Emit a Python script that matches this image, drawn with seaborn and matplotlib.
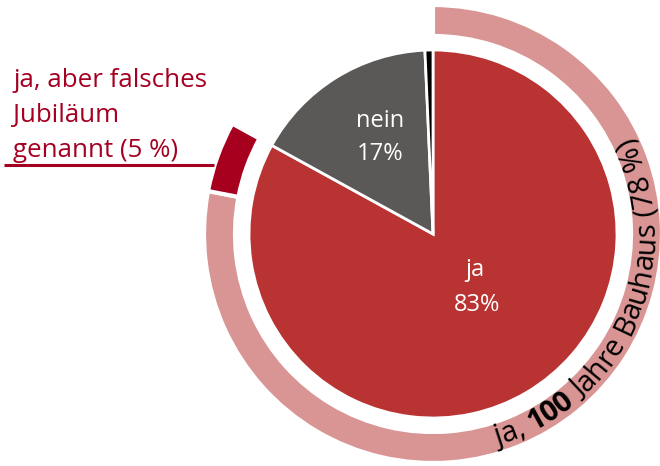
import numpy as np
import matplotlib
matplotlib.use('Agg')
import matplotlib.pyplot as plt
import seaborn as sns

# inner pie: answers
inner_labels = ['ja', 'nein', 'keine Angabe']
inner_values = [83, 16.3, 0.7]
inner_texts = [('ja', '83%'), ('nein', '17%')]

# outer ring: breakdown of "ja"
outer_values = [78, 5, 17]
outer_text = [('ja, ', 'normal'), ('100', 'bold'), (' Jahre Bauhaus (78 %)', 'normal')]
side_label = ['ja, aber falsches', 'Jubiläum', 'genannt (5 %)']

RED = '#BA3333'
GRAY = '#5A5957'
PINK = '#D99594'
DARKRED = '#A6001E'
TEXTRED = '#A50021'

W, H = 660, 466
CX, CY = 433, H - 234
R_PIE = 184
R_RING = 229
RING_W = 31


def py(y):
    """Convert a pixel row (top = 0) to data y."""
    return H - y


def curved_text(ax, segments, radius, start_deg, size, family):
    """Write text along an arc, reading counter-clockwise, tops inward."""
    renderer = ax.figure.canvas.get_renderer()

    def width(s, weight):
        t = ax.text(0, 0, s + '|', fontsize=size, fontweight=weight, family=family)
        w = t.get_window_extent(renderer).width
        t.remove()
        t = ax.text(0, 0, '|', fontsize=size, fontweight=weight, family=family)
        w -= t.get_window_extent(renderer).width
        t.remove()
        return w

    offset = 0.0
    theta0 = np.radians(start_deg)
    for seg, weight in segments:
        for i, ch in enumerate(seg):
            before = width(seg[:i], weight) if i else 0.0
            cw = width(ch, weight)
            s = offset + before + cw / 2
            th = theta0 + s / radius
            ax.text(CX + radius * np.cos(th), CY + radius * np.sin(th), ch,
                    fontsize=size, fontweight=weight, family=family,
                    rotation=np.degrees(th) + 90, rotation_mode='anchor',
                    ha='center', va='baseline', color='black')
        offset += width(seg, weight)


def main():
    sns.set_theme(style='white')
    family = ['Open Sans', 'DejaVu Sans']
    plt.rcParams['font.family'] = family

    fig = plt.figure(figsize=(W / 100, H / 100), dpi=100)
    ax = fig.add_axes([0, 0, 1, 1])

    ax.pie(inner_values, colors=[RED, GRAY, 'black'], startangle=90,
           counterclock=False, center=(CX, CY), radius=R_PIE,
           wedgeprops=dict(edgecolor='white', linewidth=2))

    wedges, _ = ax.pie(outer_values, colors=[PINK, DARKRED, 'none'], startangle=90,
                       counterclock=False, center=(CX, CY), radius=R_RING,
                       wedgeprops=dict(width=RING_W, edgecolor='white', linewidth=3))
    wedges[2].set_edgecolor('none')

    # labels inside the pie
    ax.text(475, py(276), inner_texts[0][0], color='white', fontsize=17,
            ha='center', va='baseline')
    ax.text(477, py(311), inner_texts[0][1], color='white', fontsize=17,
            ha='center', va='baseline')
    ax.text(380, py(127), inner_texts[1][0], color='white', fontsize=17,
            ha='center', va='baseline')
    ax.text(380, py(160), inner_texts[1][1], color='white', fontsize=17,
            ha='center', va='baseline')

    # label on the left with a line to the dark red segment
    for line, base in zip(side_label, [87, 122, 157]):
        ax.text(13, py(base), line, color=TEXTRED, fontsize=18.6,
                ha='left', va='baseline')
    ax.plot([4, 214], [py(165), py(165)], color=TEXTRED, lw=2.2,
            solid_capstyle='butt')

    curved_text(ax, outer_text, 221, -73, 21, family)

    ax.set_xlim(0, W)
    ax.set_ylim(0, H)
    ax.set_aspect('equal', adjustable='box')
    ax.axis('off')
    fig.savefig('out.png', dpi=100)


if __name__ == '__main__':
    main()
